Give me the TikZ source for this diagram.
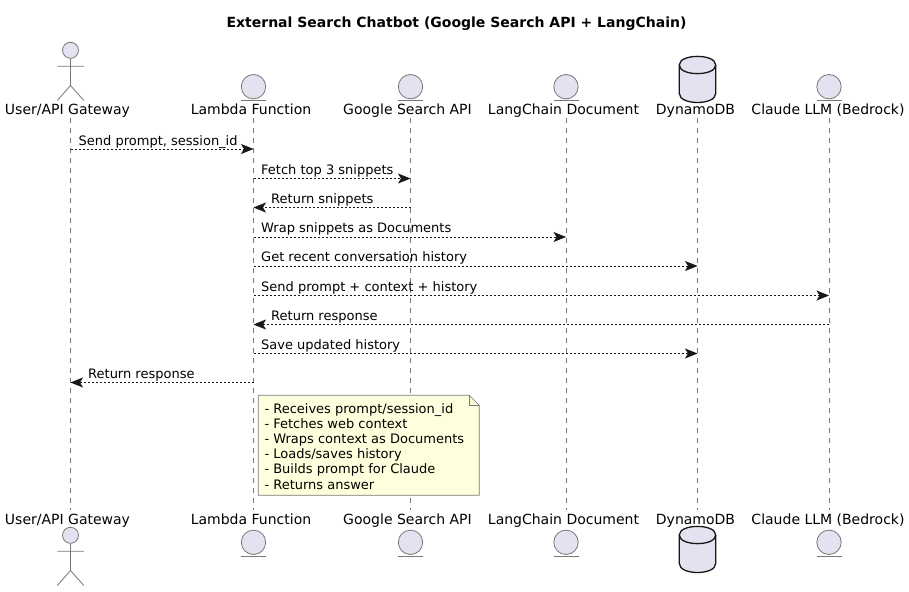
\documentclass[tikz,border=0pt]{standalone}
\usepackage{fontspec}
\setmainfont{DejaVu Sans}
\usetikzlibrary{arrows.meta}
\definecolor{partfill}{HTML}{E2E2F0}
\definecolor{notefill}{HTML}{FEFFDD}
\definecolor{partline}{HTML}{777777}
\definecolor{msgline}{HTML}{181818}
\tikzset{
  x=1pt,y=-1pt,
  lifeline/.style={draw=partline,line width=.7pt,dash pattern=on 5pt off 5pt},
  msg/.style={draw=msgline,line width=.8pt,dash pattern=on 2pt off 2pt,
    -{Stealth[inset=3pt,length=12.5pt,width=10pt,sep=0pt]}},
  msglabel/.style={anchor=base west,inner sep=0pt,font=\fontsize{13}{15}\selectfont,text=black},
  partlabel/.style={anchor=base,inner sep=0pt,font=\fontsize{14}{16}\selectfont,text=black},
  part/.style={draw=partline,fill=partfill,line width=.8pt},
  limb/.style={draw=partline,line width=.8pt},
  dbpart/.style={draw=msgline,fill=partfill,line width=1.3pt},
  notebox/.style={draw=partline,fill=notefill,line width=.7pt},
}
\begin{document}
\begin{tikzpicture}
\useasboundingbox (0,0) rectangle (909,591);
% title
\node[inner sep=0pt,anchor=base,font=\fontsize{14}{16}\selectfont\bfseries] (title) at (456.5,28) {External Search Chatbot (Google Search API + LangChain)};
% top and bottom labels
\node[partlabel] (u1) at (67.5,114.5) {User/API Gateway};
\node[partlabel] (l1) at (251,114.5) {Lambda Function};
\node[partlabel] (g1) at (407.5,114.5) {Google Search API};
\node[partlabel] (c1) at (563.5,114.5) {LangChain Document};
\node[partlabel] (d1) at (695.5,114.5) {DynamoDB};
\node[partlabel] (b1) at (828,114.5) {Claude LLM (Bedrock)};
\node[partlabel] (u2) at (67.5,524) {User/API Gateway};
\node[partlabel] (l2) at (251,524) {Lambda Function};
\node[partlabel] (g2) at (407.5,524) {Google Search API};
\node[partlabel] (c2) at (563.5,524) {LangChain Document};
\node[partlabel] (d2) at (695.5,524) {DynamoDB};
\node[partlabel] (b2) at (828,524) {Claude LLM (Bedrock)};
% lifeline ends
\coordinate (ut) at (70.5,118); \coordinate (ub) at (70.5,510);
\coordinate (lt) at (253.5,118); \coordinate (lb) at (253.5,510);
\coordinate (gt) at (410.5,118); \coordinate (gb) at (410.5,510);
\coordinate (ct) at (566,118); \coordinate (cb) at (566,510);
\coordinate (dt) at (697.5,118); \coordinate (db) at (697.5,510);
\coordinate (bt) at (829,118); \coordinate (bb) at (829,510);
\draw[lifeline] (ut) -- (ub);
\draw[lifeline] (lt) -- (lb);
\draw[lifeline] (gt) -- (gb);
\draw[lifeline] (ct) -- (cb);
\draw[lifeline] (dt) -- (db);
\draw[lifeline] (bt) -- (bb);
% actors
\foreach \yy in {0,485}{
  \begin{scope}[yshift=-\yy pt]
    \draw[limb] (70.5,58.5) -- (70.5,85.5) (57.3,66.3) -- (83.8,66.3)
      (57.3,100.5) -- (70.5,85.5) -- (83.8,100.5);
    \draw[part] (70.5,50.3) circle[radius=8];
  \end{scope}
}
% entities
\foreach \xx in {253.5,410.5,566,829}{
  \draw[part] (\xx,86.7) circle[radius=12.2];
  \draw[limb] (\xx-12.5,100) -- (\xx+12.5,100);
  \draw[part] (\xx,542.3) circle[radius=12.2];
  \draw[limb] (\xx-12.5,556) -- (\xx+12.5,556);
}
% databases
\foreach \yy in {0,470}{
  \begin{scope}[yshift=-\yy pt]
    \draw[dbpart] (679.3,65) .. controls (679.3,53.5) and (715.7,53.5) .. (715.7,65)
      -- (715.7,93.5) .. controls (715.7,105.5) and (679.3,105.5) .. (679.3,93.5) -- cycle;
    \draw[dbpart,fill=none] (679.3,65) .. controls (679.3,76.5) and (715.7,76.5) .. (715.7,65);
  \end{scope}
}
% messages
\coordinate (m1a) at (70.5,149); \coordinate (m1b) at (253.5,149);
\coordinate (m2a) at (253.5,178.5); \coordinate (m2b) at (410.5,178.5);
\coordinate (m3a) at (410.5,207.5); \coordinate (m3b) at (253.5,207.5);
\coordinate (m4a) at (253.5,237); \coordinate (m4b) at (566,237);
\coordinate (m5a) at (253.5,266); \coordinate (m5b) at (697.5,266);
\coordinate (m6a) at (253.5,295.5); \coordinate (m6b) at (829,295.5);
\coordinate (m7a) at (829,324.5); \coordinate (m7b) at (253.5,324.5);
\coordinate (m8a) at (253.5,353.5); \coordinate (m8b) at (697.5,353.5);
\coordinate (m9a) at (253.5,382.5); \coordinate (m9b) at (70.5,382.5);
\draw[msg] (m1a) -- (m1b);
\draw[msg] (m2a) -- (m2b);
\draw[msg] (m3a) -- (m3b);
\draw[msg] (m4a) -- (m4b);
\draw[msg] (m5a) -- (m5b);
\draw[msg] (m6a) -- (m6b);
\draw[msg] (m7a) -- (m7b);
\draw[msg] (m8a) -- (m8b);
\draw[msg] (m9a) -- (m9b);
\node[msglabel] (t1) at (78.5,145) {Send prompt, session\_id};
\node[msglabel] (t2) at (261,174.5) {Fetch top 3 snippets};
\node[msglabel] (t3) at (271,203.5) {Return snippets};
\node[msglabel] (t4) at (261,232.5) {Wrap snippets as Documents};
\node[msglabel] (t5) at (261,261.5) {Get recent conversation history};
\node[msglabel] (t6) at (261,291) {Send prompt + context + history};
\node[msglabel] (t7) at (271,320) {Return response};
\node[msglabel] (t8) at (261,349) {Save updated history};
\node[msglabel] (t9) at (88,378) {Return response};
% note
\draw[notebox] (258.3,395.3) -- (469.3,395.3) -- (479.3,405.3) -- (479.3,495.3) -- (258.3,495.3) -- cycle;
\draw[notebox,fill=none] (469.3,395.3) -- (469.3,405.3) -- (479.3,405.3);
\node[msglabel] (n1) at (264.3,413) {- Receives prompt/session\_id};
\node[msglabel] (n2) at (264.3,428) {- Fetches web context};
\node[msglabel] (n3) at (264.3,443) {- Wraps context as Documents};
\node[msglabel] (n4) at (264.3,458) {- Loads/saves history};
\node[msglabel] (n5) at (264.3,473) {- Builds prompt for Claude};
\node[msglabel] (n6) at (264.3,489) {- Returns answer};
\end{tikzpicture}
\end{document}
